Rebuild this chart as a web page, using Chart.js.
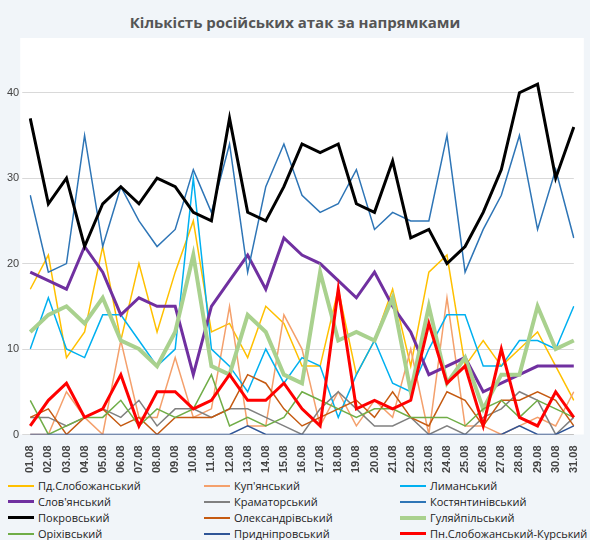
<!DOCTYPE html>
<html lang="uk">
<head>
<meta charset="UTF-8" />
<style>
  * { margin: 0; padding: 0; box-sizing: border-box; font-family: "Open Sans", sans-serif; }
  body { width: 590px; height: 540px; background: #f1f5f9; overflow: hidden; }
  h1 { font-size: 15px; color: #555; text-align: center; padding-top: 12px; height: 38px; font-weight: bold; }
  .wrap { position: relative; width: 590px; height: 438px; }
  .legend { display: grid; grid-template-columns: 196px 196px 196px; padding-left: 8px; margin-top: 2px; font-size: 11px; color: #222; row-gap: 1px; }
  .legend span { display: flex; align-items: center; }
  .legend i { display: inline-block; width: 26px; margin-right: 4px; }
</style>
</head>
<body>
<h1>Кількість російських атак за напрямками</h1>
<div class="wrap"><canvas id="c"></canvas></div>
<div class="legend" id="lg"></div>
<script src="https://cdn.jsdelivr.net/npm/chart.js"></script>
<script>
const days = [];
for (let d = 1; d <= 31; d++) days.push((d < 10 ? "0" + d : d) + ".08");

const pdSlob = [17,21,9,12,22,11,20,12,19,25,12,13,9,15,13,8,8,17,7,11,17,8,19,21,8,11,8,10,12,8,4];
const kupyan = [0,0,5,2,0,11,2,2,9,2,3,15,1,1,14,10,1,5,1,4,2,10,0,16,1,1,0,1,2,1,5];
const lyman = [10,16,10,9,14,14,11,8,10,30,10,8,5,10,6,9,8,2,7,11,6,5,10,14,14,8,8,11,11,10,15];
const slov = [19,18,17,22,19,14,16,15,15,7,15,18,21,17,23,21,20,18,16,19,15,12,7,8,9,5,6,7,8,8,8];
const kramat = [2,2,1,2,3,2,4,1,3,3,2,3,3,2,1,0,3,5,3,1,1,2,0,1,0,2,3,5,4,0,2];
const kostyan = [28,19,20,35,22,29,25,22,24,31,26,34,19,29,34,28,26,27,31,24,26,25,25,35,19,24,28,35,24,31,23];
const pokrov = [37,27,30,22,27,29,27,30,29,26,25,37,26,25,29,34,33,34,27,26,32,23,24,20,22,26,31,40,41,30,36];
const oleks = [2,3,0,2,3,1,2,0,2,2,2,3,7,6,3,1,2,3,4,2,5,2,1,5,4,1,4,4,5,4,1];
const hulyai = [12,14,15,13,16,11,10,8,12,21,8,7,14,12,7,6,19,11,12,11,16,5,15,6,9,3,7,7,15,10,11];
const orikh = [4,0,1,2,2,4,1,3,2,3,7,1,2,1,2,5,4,3,2,3,3,2,2,2,1,3,4,2,4,3,2];
const prydn = [0,0,0,0,0,0,0,0,0,0,0,0,1,0,0,0,0,0,0,0,0,0,0,0,0,0,0,1,0,0,1];
const pnSlob = [1,4,6,2,3,7,1,5,5,3,4,7,4,4,6,3,1,17,3,4,3,4,13,6,8,1,10,2,1,5,2];

const series = [
  ["Пд.Слобожанський", pdSlob, "#ffc000", 1.5],
  ["Куп'янський", kupyan, "#f4a06c", 1.5],
  ["Лиманський", lyman, "#00b0f0", 1.5],
  ["Слов'янський", slov, "#7030a0", 3],
  ["Краматорський", kramat, "#808080", 1.5],
  ["Костянтинівський", kostyan, "#2e75b6", 1.5],
  ["Покровський", pokrov, "#000000", 3],
  ["Олександрівський", oleks, "#c55a11", 1.5],
  ["Гуляйпільський", hulyai, "#a9d18e", 4],
  ["Оріхівський", orikh, "#70ad47", 1.5],
  ["Придніпровський", prydn, "#2f5597", 1.5],
  ["Пн.Слобожанський-Курський", pnSlob, "#ff0000", 3]
];

const lg = document.getElementById("lg");
series.forEach(s => {
  lg.innerHTML += `<span><i style="border-top:${Math.max(2, s[3])}px solid ${s[2]}"></i>${s[0]}</span>`;
});

const plotBg = {
  id: "plotBg",
  beforeDraw(chart) {
    const a = chart.chartArea, c = chart.ctx;
    c.save(); c.fillStyle = "#fff";
    c.fillRect(a.left - 10, a.top - 12, a.right - a.left + 20, a.bottom - a.top + 12);
    c.restore();
  }
};

new Chart(document.getElementById("c"), {
  type: "line",
  data: {
    labels: days,
    datasets: series.map(s => ({
      label: s[0], data: s[1], borderColor: s[2], borderWidth: s[3],
      pointRadius: 0, tension: 0, fill: false
    })).reverse()
  },
  options: {
    responsive: true, maintainAspectRatio: false, animation: false,
    layout: { padding: { left: 4, right: 16, top: 12 } },
    plugins: { legend: { display: false }, tooltip: { enabled: false } },
    scales: {
      x: {
        grid: { display: false },
        ticks: { minRotation: 90, maxRotation: 90, autoSkip: false, color: "#444", font: { size: 11, weight: "bold" } }
      },
      y: {
        min: 0, max: 45,
        ticks: { stepSize: 10, color: "#444", font: { size: 11 }, callback: v => v % 10 === 0 ? v : "" },
        grid: { color: c => c.tick.value % 10 === 0 ? "#d9d9d9" : "transparent" },
        border: { display: false }
      }
    }
  },
  plugins: [plotBg]
});
</script>
</body>
</html>
